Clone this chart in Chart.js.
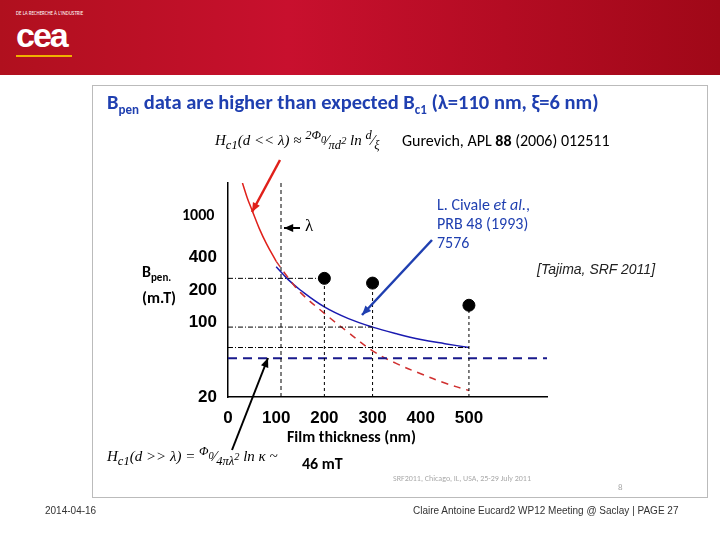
<!DOCTYPE html>
<html><head><meta charset="utf-8">
<script src="https://cdn.jsdelivr.net/npm/chart.js@4/dist/chart.umd.min.js"></script>
<style>
body{margin:0;width:720px;height:540px;position:relative;background:#fff;font-family:Calibri,"Liberation Sans",Arial,sans-serif;overflow:hidden}
#hdr{position:absolute;left:0;top:0;width:720px;height:75px;background:linear-gradient(90deg,#b0101e,#c8102e 40%,#a00818)}
#box{position:absolute;left:92px;top:85px;width:614px;height:411px;border:1px solid #bbb}
.t{position:absolute;white-space:nowrap}
canvas{position:absolute;left:0;top:0}
</style></head><body>
<div id="hdr">
<div class="t" style="left:16px;top:10px;color:#fff;font-size:5px">DE LA RECHERCHE À L'INDUSTRIE</div>
<div class="t" style="left:16px;top:16px;color:#fff;font:bold 34px 'Liberation Sans',sans-serif;letter-spacing:-2px">cea</div>
<div style="position:absolute;left:16px;top:55px;width:56px;height:2px;background:#f0b000"></div>
</div>
<div id="box"></div>
<canvas id="c" width="720" height="540"></canvas>
<div class="t" style="left:107px;top:89px;color:#1f3fb0;font-weight:bold;font-size:20.5px">B<sub style="font-size:13px">pen</sub> data are higher than expected B<sub style="font-size:13px">c1</sub> (λ=110 nm, ξ=6 nm)</div>
<div class="t" style="left:215px;top:128px;font:italic 15px 'Liberation Serif',serif">H<sub>c1</sub>(d &lt;&lt; λ) ≈ <sup>2Φ<sub>0</sub></sup>&frasl;<sub>πd<sup>2</sup></sub> ln <sup>d</sup>&frasl;<sub>ξ</sub></div>
<div class="t" style="left:402px;top:131px;font-size:16px">Gurevich, APL <b>88</b> (2006) 012511</div>
<div class="t" style="left:182px;top:205px;font-weight:bold;font-size:16px">1000</div>
<div class="t" style="left:305px;top:216px;font:17px 'Liberation Serif',serif">λ</div>
<div class="t" style="left:437px;top:195px;color:#1f3fb0;font-size:16px;line-height:19px">L. Civale <i>et al.</i>,<br>PRB 48 (1993)<br>7576</div>
<div class="t" style="left:537px;top:261px;font:italic 14px Arial,sans-serif;color:#222">[Tajima, SRF 2011]</div>
<div class="t" style="left:142px;top:262px;font-weight:bold;font-size:16px;line-height:20px">B<sub style="font-size:11px">pen.</sub><br>(m.T)</div>
<div class="t" style="left:287px;top:427px;font-weight:bold;font-size:16px">Film thickness (nm)</div>
<div class="t" style="left:107px;top:444px;font:italic 15px 'Liberation Serif',serif">H<sub>c1</sub>(d &gt;&gt; λ) = <sup>Φ<sub>0</sub></sup>&frasl;<sub>4πλ<sup>2</sup></sub> ln κ ~</div>
<div class="t" style="left:302px;top:454px;font-weight:bold;font-size:16px">46 mT</div>
<div class="t" style="left:393px;top:473px;font-size:8px;color:#aaa">SRF2011, Chicago, IL, USA, 25-29 July 2011</div>
<div class="t" style="left:618px;top:481px;font-size:9px;color:#aaa">8</div>
<div class="t" style="left:45px;top:505px;font:10px Arial,sans-serif;color:#333">2014-04-16</div>
<div class="t" style="left:413px;top:505px;font:10px Arial,sans-serif;color:#333">Claire Antoine Eucard2 WP12 Meeting @ Saclay | PAGE 27</div>
<script>
const xTicks = [0, 100, 200, 300, 400, 500];
const yTicks = [20, 100, 200, 400, 1000];
const blueX = [100, 125, 150, 200, 250, 300, 350, 400, 450, 500];
const blueY = [330, 250, 200, 139, 108, 90, 78, 69, 63, 58];
const redX = [30, 40, 50, 65, 80, 100, 125, 150, 200, 250, 300, 350, 400, 450, 500];
const redY = [2000, 1450, 1110, 750, 540, 370, 260, 190, 121, 80, 54, 41, 33, 27, 23];
const dataX = [200, 300, 500];
const dataY = [257, 232, 144];
const hc1 = 46;
const lambda = 110;
const xy = (xs, ys) => xs.map((x, i) => ({x, y: ys[i]}));
const ds = [];
// guides from points
dataX.forEach((x, i) => {
  ds.push({data: [{x, y: 20}, {x, y: dataY[i]}], borderColor: '#000', borderWidth: 1, borderDash: [3, 3], pointRadius: 0});
});
[[200, 257], [300, 90], [500, 58]].forEach(([x, y]) => {
  ds.push({data: [{x: 0, y}, {x, y}], borderColor: '#000', borderWidth: 1, borderDash: [5, 2, 1, 2], pointRadius: 0});
});
ds.push({data: [{x: lambda, y: 20}, {x: lambda, y: 2000}], borderColor: '#000', borderWidth: 1, borderDash: [4, 3], pointRadius: 0});
ds.push({data: [{x: 0, y: hc1}, {x: 662, y: hc1}], borderColor: '#1a1a8c', borderWidth: 2, borderDash: [9, 6], pointRadius: 0});
ds.push({data: xy(redX.slice(0, 6), redY.slice(0, 6)), borderColor: '#e0201a', borderWidth: 1.5, pointRadius: 0, tension: 0.4});
ds.push({data: xy(redX.slice(5), redY.slice(5)), borderColor: '#d03030', borderWidth: 1.5, borderDash: [7, 6], pointRadius: 0, tension: 0.4});
ds.push({data: xy(blueX, blueY), borderColor: '#1a1ab0', borderWidth: 1.5, pointRadius: 0, tension: 0.4});
ds.push({data: xy(dataX, dataY), showLine: false, pointRadius: 6, backgroundColor: '#000', borderColor: '#000'});

const arrows = {
  id: 'arrows',
  afterDatasetsDraw(c) {
    const g = c.ctx;
    const arr = (x1, y1, x2, y2, col, w) => {
      g.save(); g.strokeStyle = col; g.fillStyle = col; g.lineWidth = w;
      g.beginPath(); g.moveTo(x1, y1); g.lineTo(x2, y2); g.stroke();
      const a = Math.atan2(y2 - y1, x2 - x1);
      g.beginPath(); g.moveTo(x2, y2);
      g.lineTo(x2 - 10 * Math.cos(a - 0.4), y2 - 10 * Math.sin(a - 0.4));
      g.lineTo(x2 - 10 * Math.cos(a + 0.4), y2 - 10 * Math.sin(a + 0.4));
      g.closePath(); g.fill(); g.restore();
    };
    arr(280, 160, 252, 212, '#e0201a', 2.5);
    arr(432, 240, 362, 315, '#1f3fb0', 2.5);
    arr(232, 450, 268, 358, '#000', 2);
    arr(300, 228, 284, 228, '#000', 2);
  }
};

new Chart(document.getElementById('c'), {
  type: 'line',
  data: {datasets: ds},
  options: {
    responsive: false, animation: false,
    layout: {padding: {left: 178, top: 183, right: 173, bottom: 103}},
    plugins: {legend: {display: false}, tooltip: {enabled: false}},
    scales: {
      x: {type: 'linear', min: 0, max: 662,
        afterBuildTicks: s => { s.ticks = xTicks.map(v => ({value: v})); },
        afterFit: s => { s.height = 40; },
        grid: {display: false, drawTicks: true}, border: {color: '#000', width: 1.5},
        ticks: {color: '#000', font: {size: 17, weight: 'bold'}}},
      y: {type: 'logarithmic', min: 20, max: 2000,
        afterBuildTicks: s => { s.ticks = yTicks.map(v => ({value: v})); },
        afterFit: s => { s.width = 50; },
        grid: {display: false}, border: {color: '#000', width: 1.5},
        ticks: {color: '#000', font: {size: 17, weight: 'bold'}, callback: v => v === 1000 ? '' : v}}
    }
  },
  plugins: [arrows]
});
</script>
</body></html>
